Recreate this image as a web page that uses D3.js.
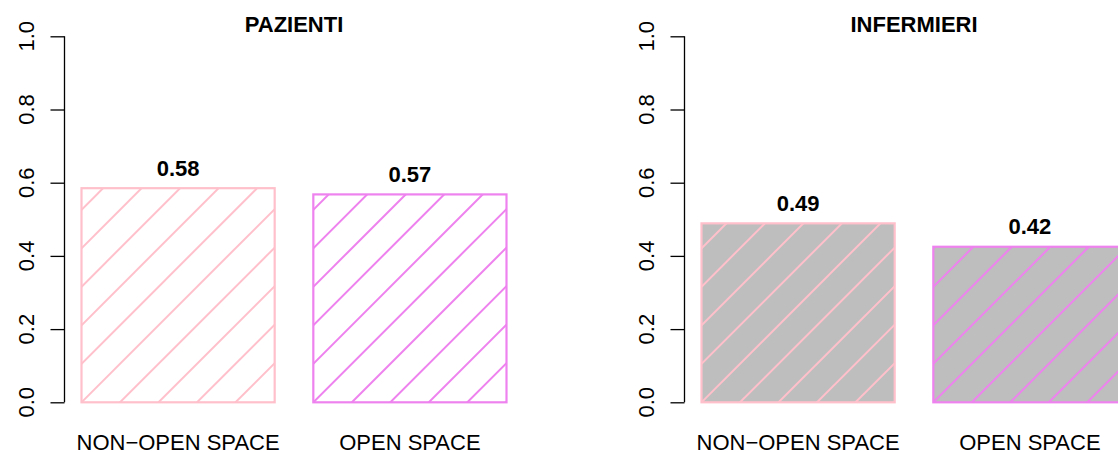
<!DOCTYPE html>
<html><head><meta charset="utf-8">
<script src="https://cdn.jsdelivr.net/npm/d3@7"></script>
<style>body{margin:0;background:#fff}svg{display:block;font-family:"Liberation Sans",Arial,sans-serif}</style>
</head><body>
<svg id="c" width="1118" height="452"></svg>
<script>
const categories = ["NON\u2212OPEN SPACE", "OPEN SPACE"];
const panelTitles = ["PAZIENTI", "INFERMIERI"];
const pazientiValues = [0.585, 0.568];
const infermieriValues = [0.489, 0.425];
const pazientiLabels = ["0.58", "0.57"];
const infermieriLabels = ["0.49", "0.42"];
const yTicks = [0, 0.2, 0.4, 0.6, 0.8, 1.0];
const yTickLabels = ["0.0", "0.2", "0.4", "0.6", "0.8", "1.0"];
const borderColors = ["#FFC0CB", "#EE82EE"];
const panelFills = ["#FFFFFF", "#BEBEBE"];

const panels = [
  {title: panelTitles[0], values: pazientiValues, labels: pazientiLabels, left: 64.5, fill: panelFills[0]},
  {title: panelTitles[1], values: infermieriValues, labels: infermieriLabels, left: 684.5, fill: panelFills[1]}
];

const svg = d3.select("#c");
const plotW = 459;
const y = d3.scaleLinear().domain([0, 1]).range([402.3, 36.3]);
const FS = 22;
const hatchStep = 38.5; // horizontal spacing of hatch lines

panels.forEach((p, pi) => {
  const g = svg.append("g").attr("transform", `translate(${p.left},0)`);
  const x = d3.scaleLinear().domain([0.112, 2.488]).range([0, plotW]);
  const bw = x(1.2) - x(0.2);

  // bars
  p.values.forEach((v, i) => {
    const x0 = x(0.2 + 1.2 * i), y0 = y(v), y1 = y(0);
    const h = y1 - y0;
    const id = `clip${pi}_${i}`;
    g.append("clipPath").attr("id", id).append("rect")
      .attr("x", x0).attr("y", y0).attr("width", bw).attr("height", h);
    g.append("rect").attr("x", x0).attr("y", y0).attr("width", bw).attr("height", h)
      .attr("fill", p.fill);
    const hg = g.append("g").attr("clip-path", `url(#${id})`);
    // lines x + y = c passing through bottom-left corner, spaced hatchStep
    const cBase = x0 + y1;
    for (let k = -Math.ceil((h) / hatchStep) - 1; k <= Math.ceil(bw / hatchStep) + 1; k++) {
      const c = cBase + k * hatchStep;
      hg.append("line")
        .attr("x1", c - y1 - 5).attr("y1", y1 + 5)
        .attr("x2", c - y0 + 5).attr("y2", y0 - 5)
        .attr("stroke", borderColors[i]).attr("stroke-width", 2);
    }
    g.append("rect").attr("x", x0).attr("y", y0).attr("width", bw).attr("height", h)
      .attr("fill", "none").attr("stroke", borderColors[i]).attr("stroke-width", 2.2);
    // value label
    g.append("text").attr("x", x0 + bw / 2).attr("y", y0 - 12.5)
      .attr("text-anchor", "middle").attr("font-weight", "bold").attr("font-size", FS)
      .text(p.labels[i]);
    // category label
    g.append("text").attr("x", x0 + bw / 2).attr("y", 450)
      .attr("text-anchor", "middle").attr("font-size", FS)
      .text(categories[i]);
  });

  // y axis
  const ax = g.append("g").call(d3.axisLeft(y).tickValues(yTicks).tickSize(14).tickFormat(""));
  ax.select(".domain").attr("d", `M0,${y(0)}V${y(1)}`).attr("stroke", "#000").attr("stroke-width", 1.3);
  ax.selectAll(".tick line").attr("stroke", "#000").attr("stroke-width", 1.3);
  yTicks.forEach((t, i) => {
    g.append("text").attr("transform", `translate(-31,${y(t)}) rotate(-90)`)
      .attr("text-anchor", "middle").attr("font-size", FS).text(yTickLabels[i]);
  });

  // title
  g.append("text").attr("x", plotW / 2).attr("y", 31.5)
    .attr("text-anchor", "middle").attr("font-weight", "bold").attr("font-size", FS)
    .text(p.title);
});
</script>
</body></html>
